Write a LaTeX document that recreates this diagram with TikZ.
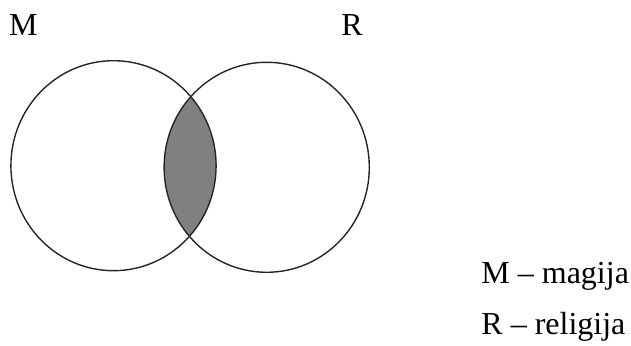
\documentclass[tikz,border=0pt]{standalone}
\usepackage{fontspec}
\setmainfont{Liberation Serif}
\begin{document}
\begin{tikzpicture}[x=1pt,y=1pt,
  lbl/.style={anchor=base west,inner sep=0pt,font=\fontsize{32}{38}\selectfont},
  ring/.style={draw=black!85,line width=1.4pt}]
\useasboundingbox (0,0) rectangle (631,345);
% sets
\coordinate (cM) at (113.5,179.3);
\coordinate (cR) at (266.7,177.7);
\begin{scope}
  \clip (cM) ellipse [x radius=102.6, y radius=105];
  \fill[gray!100!white,fill=black!50] (cR) ellipse [x radius=102.6, y radius=105];
\end{scope}
\draw[ring] (cM) ellipse [x radius=102.6, y radius=105];
\draw[ring] (cR) ellipse [x radius=102.6, y radius=105];
% labels
\node[lbl] (lM) at (9.0,309) {M};
\node[lbl] (lR) at (341.2,309) {R};
\node[lbl] (legM) at (481.2,61.7) {M – magija};
\node[lbl] (legR) at (481.2,10.7) {R – religija};
\end{tikzpicture}
\end{document}
